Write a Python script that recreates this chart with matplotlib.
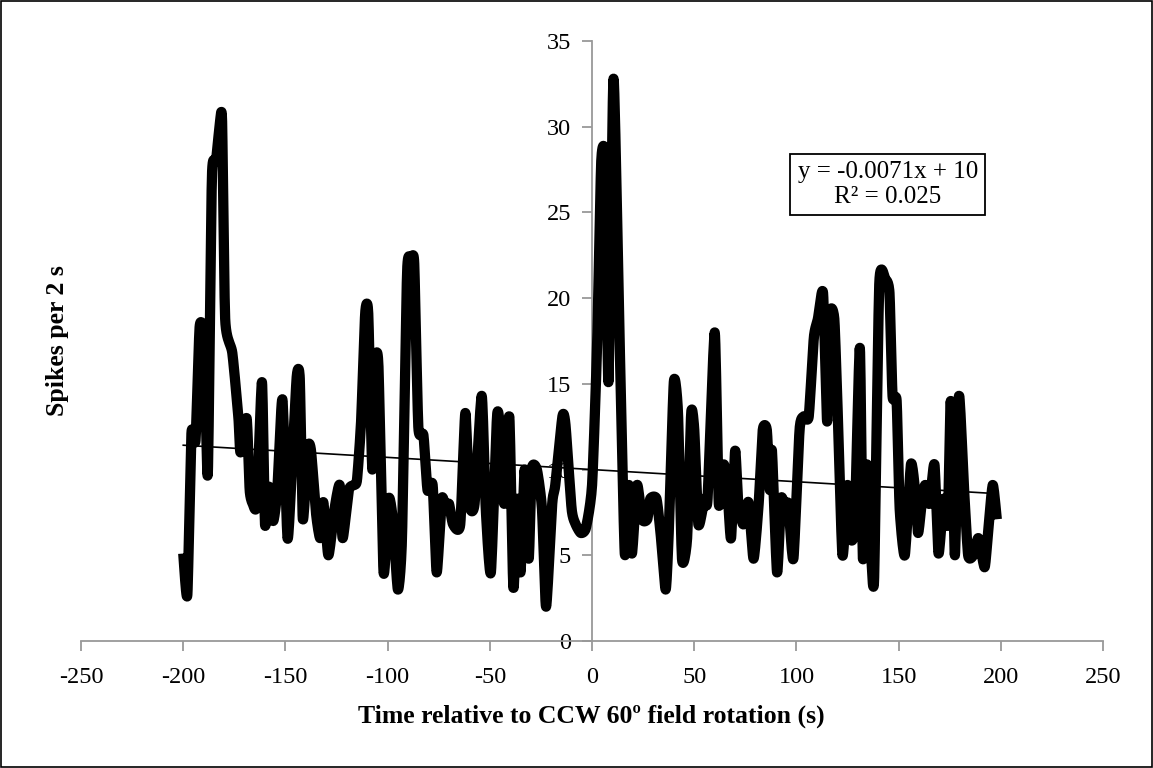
import numpy as np
import matplotlib
matplotlib.use("Agg")
import matplotlib.pyplot as plt
from matplotlib.patches import Rectangle

# Data (time in s, spikes per 2 s)
time_s = [-200, -198, -196, -194, -192, -190, -188, -186, -184, -182, -181,
          -179.5, -176, -173, -172, -169, -167.5, -166, -164, -161.5, -160,
          -158, -156, -154, -151.5, -149, -147, -144.5, -143, -141.5, -139,
          -137.5, -135, -133, -131.5, -129, -126, -123.5, -122, -119, -116.5,
          -115, -113, -111, -109.5, -107.5, -106, -104.5, -102, -99.5, -97.5,
          -95, -93, -90.5, -88.5, -87, -85, -82.5, -80.5, -78, -76, -73.5,
          -71.5, -70, -68, -64.5, -62, -60, -57.5, -54, -52, -49.5, -46.5,
          -45, -43, -40.5, -38.5, -36.5, -35, -33, -31, -29.5, -27, -24.5,
          -22.5, -19.5, -18, -14.5, -13, -10, -8, -5.5, -3, 0, 2.5, 4.5,
          6.5, 8, 10.5, 13.5, 16, 18, 19.5, 22, 24.5, 27, 28.5, 31.5,
          33.5, 36, 37.5, 40, 42, 44, 46.5, 48.5, 50, 52, 55, 56.5, 60, 62,
          64.5, 66.5, 68, 70, 71.5, 74, 76.5, 79, 81.5, 83.5, 85.5, 87, 88,
          90.5, 92.5, 94.5, 96, 98.5, 101.5, 103.5, 106, 108.5, 110.5, 113,
          115, 116.5, 118.5, 120, 122.5, 125, 126.5, 128.5, 131, 132.5, 134.5,
          136.5, 138, 140.5, 143.5, 145.5, 147, 149, 150.5, 153, 156, 158,
          159.5, 161.5, 163, 165, 167.5, 169.5, 172, 174, 175.5, 177.5, 179.5,
          182, 184, 186.5, 189, 192, 193.5, 196, 198]
spikes = [5.1, 2.7, 12.1, 11.7, 18.3, 17.7, 9.7, 27.0, 28.0, 30.3, 30.3,
          18.8, 16.8, 13.0, 11.0, 13.0, 8.8, 8.0, 8.0, 15.1, 6.8,
          9.0, 7.0, 8.8, 14.1, 6.0, 9.7, 15.4, 15.3, 7.1, 11.3,
          11.1, 7.4, 6.0, 8.1, 5.0, 7.7, 9.1, 6.0, 8.8, 9.1,
          9.4, 12.8, 19.1, 19.1, 10.0, 16.3, 16.0, 4.0, 8.3, 7.1,
          3.0, 6.0, 21.5, 22.2, 22.0, 12.5, 12.0, 8.8, 9.1, 4.0, 8.3,
          7.7, 8.0, 6.8, 6.8, 13.3, 8.0, 8.0, 14.3, 7.7, 4.0, 13.1,
          12.3, 8.0, 13.1, 3.1, 8.3, 4.0, 10.0, 4.8, 10.0, 10.0, 7.7,
          2.0, 8.0, 9.1, 13.1, 12.6, 7.7, 6.8, 6.3, 6.6, 9.1, 17.4, 28.0,
          28.0, 15.1, 32.8, 17.4, 5.1, 9.1, 5.1, 9.1, 7.1, 7.1, 8.3, 8.3,
          6.3, 3.0, 6.3, 15.1, 13.4, 4.8, 6.0, 13.3, 12.3, 6.8, 8.3, 8.3, 18.0, 8.0,
          10.3, 8.3, 6.0, 11.1, 8.0, 6.8, 8.1, 4.8, 8.0, 12.3, 12.3, 8.8, 11.1,
          4.0, 8.3, 7.7, 8.0, 4.8, 12.3, 13.1, 13.1, 17.7, 18.8, 20.3,
          12.8, 19.1, 18.8, 14.0, 5.0, 9.1, 6.0, 6.8, 17.1, 4.8, 10.3,
          5.1, 3.7, 20.8, 21.1, 20.3, 14.3, 14.0, 7.7, 5.0, 10.3, 8.8,
          6.3, 8.3, 9.1, 8.0, 10.3, 5.1, 8.3, 6.8, 14.0, 5.0, 14.3,
          8.8, 5.0, 5.0, 6.0, 4.3, 6.0, 9.1, 7.1]

trend_slope = -0.0071
trend_intercept = 10.0
eq_text = "y = -0.0071x + 10\nR² = 0.025"

xlabel = "Time relative to CCW 60º field rotation (s)"
ylabel = "Spikes per 2 s"
xticks = [-250, -200, -150, -100, -50, 0, 50, 100, 150, 200, 250]
yticks = [0, 5, 10, 15, 20, 25, 30, 35]


def smooth_curve(x, y, n=12, k=10.0):
    x = np.asarray(x, float)
    y = np.asarray(y, float)
    px = np.concatenate([[x[0]], x, [x[-1]]])
    py = np.concatenate([[y[0]], y, [y[-1]]])
    xs, ys = [], []
    t = np.linspace(0, 1, n, endpoint=False)
    for i in range(1, len(px) - 2):
        p0x, p1x, p2x, p3x = px[i - 1], px[i], px[i + 1], px[i + 2]
        p0y, p1y, p2y, p3y = py[i - 1], py[i], py[i + 1], py[i + 2]
        c1x = p1x + (p2x - p0x) / k
        c1y = p1y + (p2y - p0y) / k
        c2x = p2x - (p3x - p1x) / k
        c2y = p2y - (p3y - p1y) / k
        bx = ((1 - t) ** 3 * p1x + 3 * (1 - t) ** 2 * t * c1x
              + 3 * (1 - t) * t ** 2 * c2x + t ** 3 * p2x)
        by = ((1 - t) ** 3 * p1y + 3 * (1 - t) ** 2 * t * c1y
              + 3 * (1 - t) * t ** 2 * c2y + t ** 3 * p2y)
        xs.extend(bx)
        ys.extend(by)
    xs.append(x[-1])
    ys.append(y[-1])
    return np.array(xs), np.array(ys)


plt.rcParams['font.family'] = ['Liberation Serif', 'DejaVu Serif']

fig = plt.figure(figsize=(11.53, 7.68), dpi=100)
ax = fig.add_axes([0.0703, 0.1654, 0.8864, 0.7812])

sx, sy = smooth_curve(time_s, spikes)
ax.plot(sx, sy, color='black', lw=7.4, solid_joinstyle='round',
        solid_capstyle='butt', zorder=3)

tx = np.array([time_s[0], time_s[-1]])
ax.plot(tx, trend_slope * tx + trend_intercept, color='black', lw=1.2, zorder=4)

ax.set_xlim(-250, 250)
ax.set_ylim(0, 35)
ax.set_xticks(xticks)
ax.set_yticks(yticks)
ax.set_xticklabels([str(v) for v in xticks])
ax.set_yticklabels([str(v) for v in yticks])

for s in ['top', 'right']:
    ax.spines[s].set_visible(False)
ax.spines['left'].set_position(('data', 0))
ax.spines['bottom'].set_position(('data', 0))
for s in ['left', 'bottom']:
    ax.spines[s].set_color('#999999')
    ax.spines[s].set_linewidth(1.3)
ax.tick_params(axis='both', colors='#999999', length=7, width=1.3,
               direction='out', labelsize=17.5, labelcolor='black')
ax.tick_params(axis='x', pad=12)
ax.tick_params(axis='y', pad=8)

fig.text(0.5125, 0.067, xlabel, ha='center', va='center',
         fontsize=18.5, fontweight='bold')
fig.text(0.050, 0.556, ylabel, ha='center', va='center', rotation=90,
         fontsize=18.5, fontweight='bold')

ax.text(0.770, 0.760, eq_text, transform=fig.transFigure,
        ha='center', va='center', fontsize=18, linespacing=1.15,
        bbox=dict(boxstyle='square,pad=0.3', facecolor='white',
                  edgecolor='black', lw=1.3), zorder=5)

fig.patches.append(Rectangle((0.001, 0.001), 0.998, 0.998,
                             transform=fig.transFigure, fill=False,
                             edgecolor='black', lw=1.2))

fig.savefig('out.png', dpi=100)
